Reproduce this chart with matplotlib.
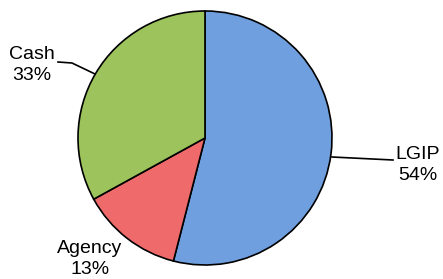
import matplotlib.pyplot as plt

labels = ["LGIP", "Agency", "Cash"]
shares = [54, 13, 33]
colors = ["#6f9fde", "#ef6b6b", "#9cc35c"]

W, H = 443, 279
fig = plt.figure(figsize=(W / 100, H / 100), dpi=100)
ax = fig.add_axes([0, 0, 1, 1])
ax.set_xlim(0, W)
ax.set_ylim(0, H)
ax.set_aspect("equal")
ax.axis("off")

# pixel-ish coordinates, y measured from bottom
cx, cy, r = 205, H - 138, 127
ax.pie(shares, colors=colors, startangle=90, counterclock=False,
       center=(cx, cy), radius=r, frame=True,
       wedgeprops=dict(edgecolor="black", linewidth=1.2))
ax.set_xlim(0, W)
ax.set_ylim(0, H)
ax.axis("off")

font = dict(family="Liberation Sans", fontsize=14, ha="center",
            va="center", linespacing=1.3)
ax.text(32, H - 65, "Cash\n33%", **font)
ax.text(418, H - 165, "LGIP\n54%", **font)
ax.text(90, H - 259, "Agency\n13%", **font)

# leader lines
ax.plot([58, 72, 95], [H - 62, H - 63, H - 74], color="black", lw=1.2)
ax.plot([332, 393], [H - 157, H - 160], color="black", lw=1.2)

fig.savefig("out.png", dpi=100)
